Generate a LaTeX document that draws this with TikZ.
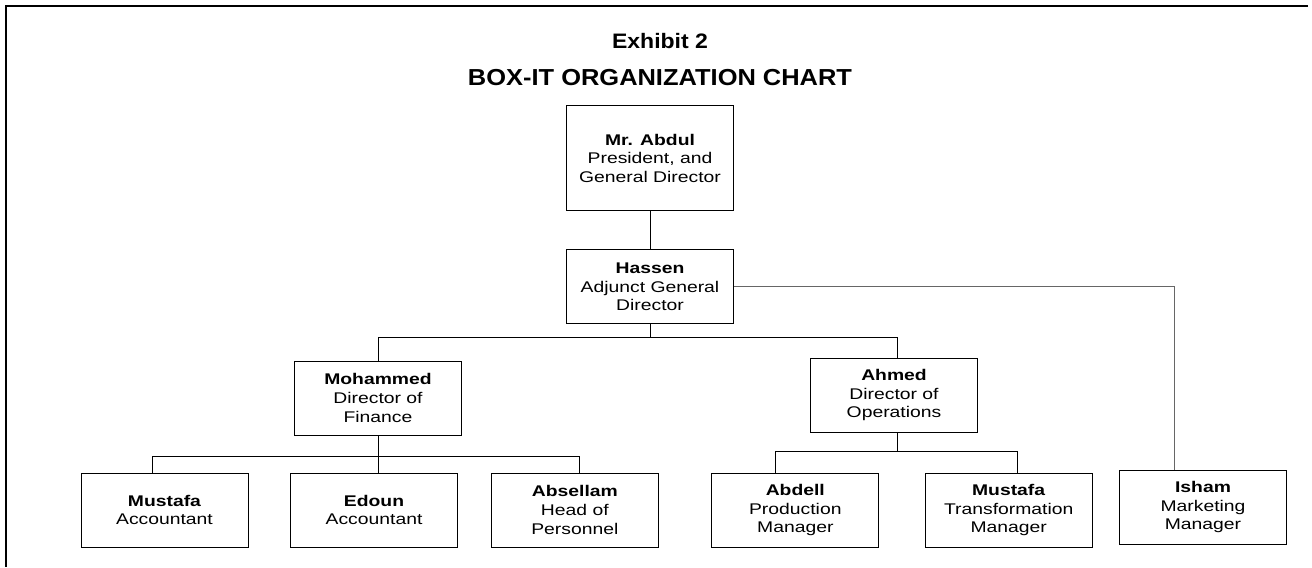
\documentclass[tikz,border=0pt]{standalone}
\usepackage{fontspec}
\setmainfont{Liberation Sans}[FakeStretch=1.25]
\newfontfamily\headfont{Liberation Sans}[FakeStretch=1.1]
\usetikzlibrary{positioning}
\usetikzlibrary{calc}

\begin{document}
\begin{tikzpicture}[x=0.75pt, y=-0.75pt,
				post/.style={draw, rectangle, line width=0.6pt, inner sep=0pt, minimum width=125.25pt, minimum height=55.5pt, font=\fontsize{11.6}{14}\selectfont},
				link/.style={line width=0.6pt},
				every text node part/.style={align=center}]
				\useasboundingbox (0,0) rectangle (1312,567);
				\draw[line width=1.3pt] (1308,6) -- (6,6) -- (6,567);
				
				\node[anchor=base, font=\headfont\bfseries\fontsize{15.7}{18}\selectfont](exhibit) at (660,49) {Exhibit 2};
				\node[anchor=base, font=\headfont\bfseries\fontsize{17.35}{20}\selectfont](title) at (660,85) {BOX-IT ORGANIZATION CHART};
				
				\node[post, minimum height=78.75pt](abdul) at (650,158.2) {\textbf{Mr. Abdul}\\President, and\\General Director};
				\node[post, below=28.7pt of abdul](hassen) {\textbf{Hassen}\\Adjunct General\\Director};
				
				\node[post](mohammed) at (378,398) {\textbf{Mohammed}\\Director of\\Finance};
				\node[post](ahmed) at (894,395.3) {\textbf{Ahmed}\\Director of\\Operations};
				
				\node[post](mustafa) at (164.5,510) {\textbf{Mustafa}\\Accountant};
				\node[post, right=31.3pt of mustafa](edoun) {\textbf{Edoun}\\Accountant};
				\node[post, right=24.75pt of edoun](absellam) {\textbf{Absellam}\\Head of\\Personnel};
				\node[post, right=39.5pt of absellam](abdell) {\textbf{Abdell}\\Production\\Manager};
				\node[post, right=34.2pt of abdell](mustafat) {\textbf{Mustafa}\\Transformation\\Manager};
				\node[post](isham) at (1203,507.2) {\textbf{Isham}\\Marketing\\Manager};
				
				\draw[link] (abdul) -- (hassen);
				\draw[link] (hassen.south) -- ++(0,13.5) coordinate (hbus);
				\draw[link] (mohammed.north) |- (hbus) -| ($(ahmed.north)+(3,0)$);
				\draw[link, black!60] (hassen.east) -| ($(isham.north)+(-29,0)$);
				
				\draw[link] (mohammed.south) -- ++(0,21) coordinate (mbus);
				\draw[link] ($(mustafa.north)+(-12.5,0)$) |- (mbus) -| ($(absellam.north)+(5,0)$);
				\draw[link] (mbus) -- (mbus |- edoun.north);
				
				\draw[link] ($(ahmed.south)+(3,0)$) -- ++(0,18.5) coordinate (abus);
				\draw[link] ($(abdell.north)+(-20,0)$) |- (abus) -| ($(mustafat.north)+(9,0)$);
			\end{tikzpicture}
\end{document}
